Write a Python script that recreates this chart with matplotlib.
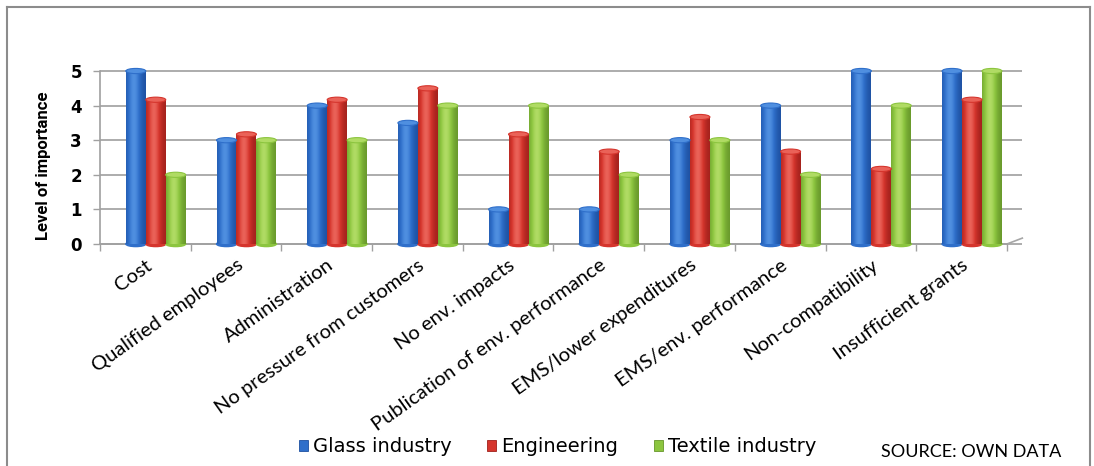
import numpy as np
import matplotlib
matplotlib.use("Agg")
import matplotlib.pyplot as plt
from matplotlib.patches import Ellipse, Patch
from matplotlib.lines import Line2D

categories = ["Cost", "Qualified employees", "Administration",
              "No pressure from customers", "No env. impacts",
              "Publication of env. performance", "EMS/lower expenditures",
              "EMS/env. performance", "Non-compatibility", "Insufficient grants"]
glass = [5, 3, 4, 3.5, 1, 1, 3, 4, 5, 5]
engineering = [4.17, 3.17, 4.17, 4.5, 3.17, 2.67, 3.67, 2.67, 2.17, 4.17]
textile = [2, 3, 3, 4, 4, 2, 3, 2, 4, 5]
series_names = ["Glass industry", "Engineering", "Textile industry"]

# (dark edge, base, highlight) for each series
palettes = [("#1d50a0", "#2f6fca", "#4f8fe0"),
            ("#a0201b", "#d5352d", "#ea6258"),
            ("#66962a", "#8cc53f", "#b0db64")]


def hex2rgb(h):
    return np.array(matplotlib.colors.to_rgb(h))


def cylinder_strip(dark, base, light, n=64):
    t = np.linspace(0, 1, n)
    v = np.exp(-((t - 0.4) / 0.36) ** 2)
    d, b, l = hex2rgb(dark), hex2rgb(base), hex2rgb(light)
    out = np.empty((n, 3))
    for k, vv in enumerate(v):
        if vv < 0.6:
            a = vv / 0.6
            out[k] = d * (1 - a) + b * a
        else:
            a = (vv - 0.6) / 0.4
            out[k] = b * (1 - a) + l * a
    return out[None, :, :]


fig = plt.figure(figsize=(10.94, 4.66), dpi=100)
ax = fig.add_axes([0.0914, 0.4764, 0.829, 0.3712])

x = np.arange(len(categories))
w = 0.22
shift = 0.115
offsets = [-w, 0, w]
cap_h = 0.15

for s, vals in enumerate([glass, engineering, textile]):
    dark, base, light = palettes[s]
    strip = cylinder_strip(dark, base, light)
    bars = ax.bar(x + shift + offsets[s], vals, width=w, color=base,
                  linewidth=0, zorder=3)
    for b in bars:
        x0 = b.get_x()
        h = b.get_height()
        im = ax.imshow(strip, extent=(x0, x0 + w, 0, h), aspect="auto",
                       zorder=3.1, interpolation="bilinear")
        im.set_clip_path(b)
        # rounded bottom and top cap
        ax.add_patch(Ellipse((x0 + w / 2, 0), w, cap_h, color=base,
                             zorder=2.9, clip_on=False))
        ax.add_patch(Ellipse((x0 + w / 2, h), w, cap_h, fc=light,
                             ec=base, lw=0.8, zorder=3.3, clip_on=False))

ax.set_xlim(-0.5, len(categories) - 0.5)
ax.set_ylim(0, 5)
ax.set_yticks(range(6))
ax.set_yticklabels([str(i) for i in range(6)], fontsize=12,
                   fontweight="bold", family="DejaVu Sans")
# gridlines run a little past the last category, like the back wall
ax.hlines(range(6), -0.5, len(categories) - 0.33, color="#a6a6a6", lw=1.3,
          zorder=1, clip_on=False)
ax.plot([len(categories) - 0.5, len(categories) - 0.33], [0, 0.17],
        color="#a6a6a6", lw=1.2, clip_on=False, zorder=1)

ax.set_xticks(x)
ax.set_xticklabels(categories, rotation=35.5, ha="right",
                   rotation_mode="anchor", fontsize=14.5, family="Lato")
ax.set_xticks(np.arange(-0.5, len(categories)), minor=True)
ax.tick_params(axis="x", which="major", length=0, pad=9)
ax.tick_params(axis="x", which="minor", length=5, color="#a0a0a0", width=1)
ax.tick_params(axis="y", length=5, color="#a0a0a0", width=1, pad=8)

for side in ["top", "right"]:
    ax.spines[side].set_visible(False)
for side in ["left", "bottom"]:
    ax.spines[side].set_color("#a0a0a0")
    ax.spines[side].set_linewidth(1.2)

ax.set_ylabel("Level of importance", fontsize=12, fontweight="bold",
              family=["Liberation Sans Narrow", "Roboto"])
ax.yaxis.set_label_coords(-0.0535, 0.45)

handles = [Patch(facecolor=palettes[i][1], edgecolor=palettes[i][0], lw=0.6)
           for i in range(3)]
fig.legend(handles, series_names, loc="center", bbox_to_anchor=(0.5096, 0.041),
           ncol=3, frameon=False, fontsize=14, handlelength=0.47,
           handleheight=0.47, handletextpad=0.25, columnspacing=1.85)

fig.text(0.888, 0.03, "SOURCE: OWN DATA", ha="center", va="center",
         fontsize=13, family="Lato")

# outer frame
frame_col = "#8c8c8c"
fig.add_artist(Line2D([0.0064, 0.0064], [0.0, 0.985], color=frame_col, lw=1.5))
fig.add_artist(Line2D([0.0064, 0.9965], [0.985, 0.985], color=frame_col, lw=1.5))
fig.add_artist(Line2D([0.9965, 0.9965], [0.0, 0.985], color=frame_col, lw=1.5))

fig.savefig("out.png", dpi=100)
